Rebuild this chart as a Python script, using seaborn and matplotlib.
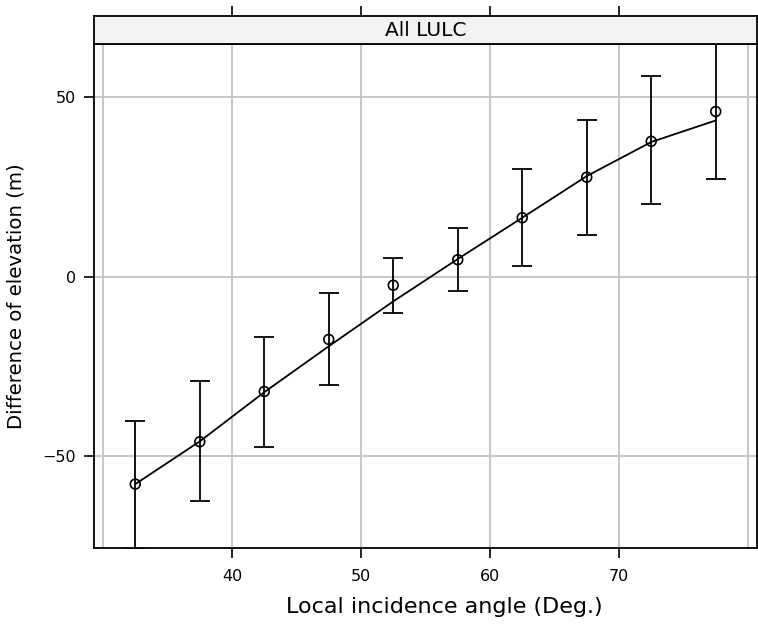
import matplotlib
matplotlib.use("Agg")
import matplotlib.pyplot as plt
import seaborn as sns
import pandas as pd

# Binned local incidence angle (bin centres, degrees)
angle = [32.5, 37.5, 42.5, 47.5, 52.5, 57.5, 62.5, 67.5, 72.5, 77.5]
# Mean difference of elevation per bin (m)
mean_diff = [-57.8, -46.0, -32.0, -17.5, -2.4, 4.7, 16.4, 27.7, 37.7, 46.0]
# Lower / upper error bar ends (m)
lower = [-76.0, -62.6, -47.4, -30.1, -10.0, -4.0, 2.9, 11.7, 20.1, 27.2]
upper = [-40.3, -29.2, -16.8, -4.7, 5.2, 13.5, 30.1, 43.5, 55.9, 65.5]
# Smoothed trend evaluated at the bin centres (m)
trend = [-57.8, -45.9, -32.2, -19.4, -6.9, 4.9, 16.4, 28.0, 37.5, 43.5]

panel_title = "All LULC"
x_ticks = [40, 50, 60, 70]
y_ticks = [-50, 0, 50]

df = pd.DataFrame({"angle": angle, "mean": mean_diff, "lower": lower,
                   "upper": upper, "trend": trend})

sns.set_theme(style="white")
plt.rcParams["font.family"] = ["DejaVu Sans"]
plt.rcParams["text.color"] = "black"
plt.rcParams["axes.labelcolor"] = "black"

fig = plt.figure(figsize=(7.58, 6.24), dpi=100)
ax = fig.add_axes([94 / 758, 1 - 548 / 624, 663 / 758, 504 / 624])
strip = fig.add_axes([94 / 758, 1 - 44 / 624, 663 / 758, 28 / 624], sharex=ax)

grid_col = "#c6c6c6"
for xv in [30, 40, 50, 60, 70, 80]:
    ax.axvline(xv, color=grid_col, lw=1.4, zorder=0)
for yv in y_ticks:
    ax.axhline(yv, color=grid_col, lw=1.4, zorder=0)

ax.errorbar(df["angle"], df["mean"],
            yerr=[df["mean"] - df["lower"], df["upper"] - df["mean"]],
            fmt="none", ecolor="black", elinewidth=1.3, capsize=7,
            capthick=1.3, zorder=2)
sns.lineplot(data=df, x="angle", y="trend", color="black", lw=1.3,
             ax=ax, zorder=3)
sns.scatterplot(data=df, x="angle", y="mean", marker="o", s=50,
                facecolor="none", edgecolor="black", linewidth=1.2,
                ax=ax, zorder=4)

ax.set_xlim(29.3, 80.7)
ax.set_ylim(-75.6, 64.8)
ax.set_xticks(x_ticks)
ax.set_yticks(y_ticks)
ax.set_yticklabels(["\u221250", "0", "50"])
ax.tick_params(axis="both", direction="out", length=7, width=1.2,
               labelsize=11.5, colors="black")
ax.tick_params(axis="x", pad=8, bottom=True, top=False)
ax.tick_params(axis="y", pad=6, right=True, left=True)
ax.set_xlabel("Local incidence angle (Deg.)", fontsize=16)
ax.set_ylabel("Difference of elevation (m)", fontsize=14.2)
ax.xaxis.set_label_coords(0.528, -0.098)
ax.yaxis.set_label_coords(-0.104, 0.5)
for s in ax.spines.values():
    s.set_color("black")
    s.set_linewidth(1.3)

strip.set_facecolor("#f2f2f2")
strip.set_ylim(0, 1)
strip.set_yticks([])
strip.tick_params(axis="x", top=True, bottom=False, labeltop=False,
                  labelbottom=False, direction="out", length=7, width=1.2,
                  colors="black")
for s in strip.spines.values():
    s.set_color("black")
    s.set_linewidth(1.3)
strip.text(0.5, 0.48, panel_title, transform=strip.transAxes,
           ha="center", va="center", fontsize=14.5)

fig.savefig("out.png", dpi=100)
